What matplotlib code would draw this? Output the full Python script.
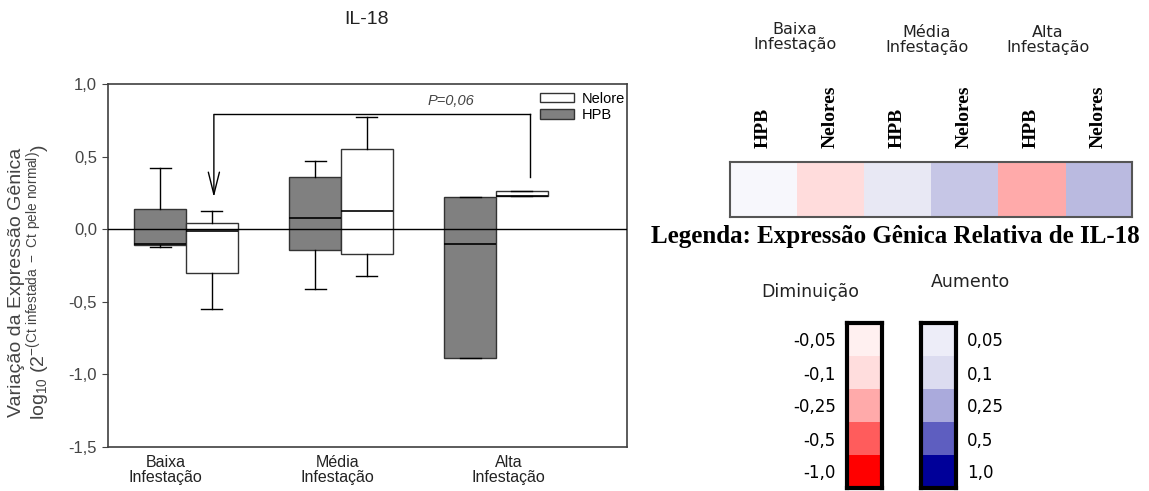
import numpy as np
import matplotlib.pyplot as plt
from matplotlib.colors import to_rgb
from matplotlib.patches import Patch

plt.rcParams['font.family'] = ['Liberation Sans', 'DejaVu Sans']
plt.rcParams['mathtext.default'] = 'regular'

W, H = 1149, 491

# --- box plot data (log10 relative expression) ---
groups = ["Baixa\nInfestação", "Média\nInfestação", "Alta\nInfestação"]
hpb_whislo = [-0.12, -0.41, -0.89]
hpb_q1 = [-0.11, -0.14, -0.89]
hpb_med = [-0.10, 0.08, -0.10]
hpb_q3 = [0.14, 0.36, 0.22]
hpb_whishi = [0.42, 0.47, 0.22]

nel_whislo = [-0.55, -0.32, 0.23]
nel_q1 = [-0.30, -0.17, 0.23]
nel_med = [-0.01, 0.125, 0.23]
nel_q3 = [0.045, 0.55, 0.26]
nel_whishi = [0.125, 0.77, 0.26]

p_text = "P=0,06"

# --- heat map data ---
heat_groups = ["Baixa\nInfestação", "Média\nInfestação", "Alta\nInfestação"]
heat_cols = ["HPB", "Nelores", "HPB", "Nelores", "HPB", "Nelores"]
heat_colors = ["#f7f7fc", "#ffdcdc", "#e8e8f4", "#c6c6e6", "#ffaaaa", "#babae0"]

dec_labels = ["-0,05", "-0,1", "-0,25", "-0,5", "-1,0"]
dec_colors = ["#fff0f0", "#ffdddd", "#ffaaaa", "#ff5c5c", "#ff0000"]
inc_labels = ["0,05", "0,1", "0,25", "0,5", "1,0"]
inc_colors = ["#ededf8", "#dcdcf0", "#aaaadc", "#5e5ec0", "#000099"]


def px_box(l, t, r, b):
    return [l / W, 1 - b / H, (r - l) / W, (b - t) / H]


def stats(lo, q1, med, q3, hi):
    return [dict(whislo=a, q1=b, med=c, q3=d, whishi=e, fliers=[])
            for a, b, c, d, e in zip(lo, q1, med, q3, hi)]


fig = plt.figure(figsize=(W / 100, H / 100), dpi=100)

# ---------------- box plot ----------------
ax = fig.add_axes(px_box(108, 84, 627, 447))
pos = np.arange(1, len(groups) + 1)
common = dict(widths=1 / 3, capwidths=0.135, patch_artist=True,
              showfliers=False, manage_ticks=False,
              medianprops=dict(color="black", lw=1.2),
              whiskerprops=dict(color="black", lw=1),
              capprops=dict(color="black", lw=1))
ax.bxp(stats(hpb_whislo, hpb_q1, hpb_med, hpb_q3, hpb_whishi),
       positions=pos - 1 / 6,
       boxprops=dict(facecolor="#808080", edgecolor="#333333", lw=1), **common)
ax.bxp(stats(nel_whislo, nel_q1, nel_med, nel_q3, nel_whishi),
       positions=pos + 1 / 6,
       boxprops=dict(facecolor="white", edgecolor="#333333", lw=1), **common)
ax.axhline(0, color="black", lw=1, zorder=4)

# significance bracket
br_left, br_right, br_top = 1.18, 3.22, 0.79
ax.plot([br_left, br_right], [br_top, br_top], color="black", lw=1)
ax.plot([br_right, br_right], [br_top, 0.36], color="black", lw=1)
ax.annotate("", xy=(br_left, 0.22), xytext=(br_left, br_top),
            arrowprops=dict(arrowstyle="->, head_length=1.6, head_width=0.4",
                            color="black", lw=1, shrinkA=0, shrinkB=0))
ax.text(2.71, 0.885, p_text, style="italic", color="#444444",
        fontsize=10.5, ha="center", va="center")

ax.set_xlim(0.497, 3.845)
ax.set_ylim(-1.5, 1.0)
ax.set_yticks([1.0, 0.5, 0.0, -0.5, -1.0, -1.5])
ax.set_yticklabels(["1,0", "0,5", "0,0", "-0,5", "-1,0", "-1,5"],
                   color="#444444", fontsize=12)
ax.tick_params(axis="y", length=4, color="#444444", pad=4)
ax.set_xticks([0.87, 1.975, 3.08])
ax.set_xticklabels(groups, fontsize=11.5, linespacing=1.0, color="#222222")
ax.tick_params(axis="x", length=0, pad=6)
for s in ax.spines.values():
    s.set_color("#404040")
    s.set_linewidth(1.2)

ax.legend([Patch(facecolor="white", edgecolor="#333333"),
           Patch(facecolor="#808080", edgecolor="#333333")],
          ["Nelore", "HPB"], loc="upper left",
          bbox_to_anchor=(0.822, 0.995), frameon=False, fontsize=10.5,
          handlelength=2.3, handleheight=0.65, labelspacing=0.15,
          handletextpad=0.5, borderaxespad=0)

fig.text(366 / W, 1 - 20 / H, "IL-18", fontsize=14, ha="center", va="center",
         color="#222222")
fig.text(30 / W, 1 - 282 / H,
         "Variação da Expressão Gênica\n"
         r"log$_{10}$ (2$^{-(Ct\ infestada\ -\ Ct\ pele\ normal)}$)",
         rotation=90, fontsize=14, ha="center", va="center",
         multialignment="center", color="#444444", linespacing=1.0)

# ---------------- heat map ----------------
hx = fig.add_axes(px_box(730, 162, 1132, 217))
hx.imshow(np.array([[to_rgb(c) for c in heat_colors]]), aspect="auto")
hx.set_yticks([])
hx.set_xticks(np.arange(len(heat_cols)))
hx.set_xticklabels(heat_cols, rotation=90, family="Liberation Serif",
                   weight="bold", fontsize=14)
hx.xaxis.tick_top()
hx.tick_params(axis="x", length=0, pad=10)
for s in hx.spines.values():
    s.set_color("#555555")
    s.set_linewidth(1.5)

for lab, cx, cy in zip(heat_groups, [795, 927, 1048], [37, 40, 40]):
    fig.text(cx / W, 1 - cy / H, lab, family="DejaVu Sans", fontsize=11.5,
             ha="center", va="center", linespacing=1.0, color="#222222")

fig.text(895 / W, 1 - 237 / H, "Legenda: Expressão Gênica Relativa de IL-18",
         family="Liberation Serif", weight="bold", fontsize=18,
         ha="center", va="center")

# ---------------- colour legend ----------------
for (l, r), cols, labs, side in [((847, 882), dec_colors, dec_labels, "left"),
                                 ((921, 956), inc_colors, inc_labels, "right")]:
    cx = fig.add_axes(px_box(l, 323, r, 488))
    cx.imshow(np.array([[to_rgb(c)] for c in cols]), aspect="auto")
    cx.set_xticks([])
    cx.set_yticks(np.arange(len(labs)))
    cx.set_yticklabels(labs, family="DejaVu Sans", fontsize=12)
    if side == "right":
        cx.yaxis.tick_right()
    cx.tick_params(axis="y", length=0, pad=8)
    for s in cx.spines.values():
        s.set_color("black")
        s.set_linewidth(3)

fig.text(810 / W, 1 - 292 / H, "Diminuição", family="DejaVu Sans",
         fontsize=12.5, ha="center", va="center", color="#222222")
fig.text(970 / W, 1 - 282 / H, "Aumento", family="DejaVu Sans",
         fontsize=12.5, ha="center", va="center", color="#222222")

fig.savefig("out.png", dpi=100)
